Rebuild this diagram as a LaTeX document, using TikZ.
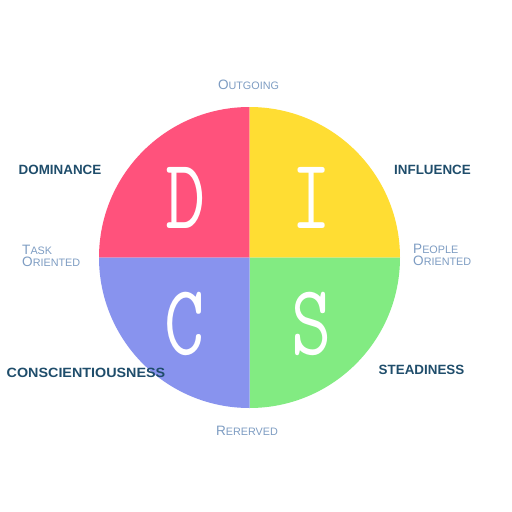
\documentclass[tikz,border=0pt]{standalone}
\usepackage{fontspec}
\setmainfont{Liberation Sans}
\definecolor{cD}{HTML}{FF527C}
\definecolor{cI}{HTML}{FFDD33}
\definecolor{cC}{HTML}{8893EE}
\definecolor{cS}{HTML}{82EB82}
\definecolor{darklbl}{HTML}{1F4D6B}
\definecolor{lightlbl}{HTML}{7D9CC2}
\newcommand{\sck}[2]{{\fontsize{13.6}{13.6}\selectfont #1}{\fontsize{10.8}{10.8}\selectfont #2}}
\tikzset{
  big/.style={font=\bfseries\fontsize{13.4}{14}\selectfont, text=darklbl, inner sep=0pt},
  small/.style={text=lightlbl, inner sep=0pt, align=left},
  letter/.style={text=white, font=\ttfamily\fontsize{100}{100}\selectfont, inner sep=0pt, xscale=0.78}
}
\begin{document}
\begin{tikzpicture}[x=1pt,y=1pt]
\useasboundingbox (0,0) rectangle (512,-512);
\coordinate (c) at (249.5,-257.5);
\fill[cD] (c) -- ++(-150.5pt,0) arc[start angle=180,end angle=90,radius=150.5pt] -- cycle;
\fill[cI] (c) -- ++(0,150.5pt) arc[start angle=90,end angle=0,radius=150.5pt] -- cycle;
\fill[cS] (c) -- ++(150.5pt,0) arc[start angle=0,end angle=-90,radius=150.5pt] -- cycle;
\fill[cC] (c) -- ++(0,-150.5pt) arc[start angle=-90,end angle=-180,radius=150.5pt] -- cycle;
\node[letter] (ld) at (186,-197.5) {D};
\node[letter] (li) at (312,-197.5) {I};
\node[letter] (lc) at (185,-323.5) {C};
\node[letter] (ls) at (312,-323.5) {S};
\node[big] (dom) at (60,-170) {DOMINANCE};
\node[big] (inf) at (432.5,-170) {INFLUENCE};
\node[big, xscale=1.07] (con) at (86,-373) {CONSCIENTIOUSNESS};
\node[big] (ste) at (421.5,-370) {STEADINESS};
\node[small] (out) at (248.5,-85) {\sck{O}{UTGOING}};
\node[small] (rer) at (247,-431) {\sck{R}{ERERVED}};
\node[small, anchor=west] (t1) at (22,-250) {\sck{T}{ASK}};
\node[small, anchor=west] (t2) at (22,-262) {\sck{O}{RIENTED}};
\node[small, anchor=west] (p1) at (413,-249) {\sck{P}{EOPLE}};
\node[small, anchor=west] (p2) at (413,-261) {\sck{O}{RIENTED}};
\end{tikzpicture}
\end{document}
